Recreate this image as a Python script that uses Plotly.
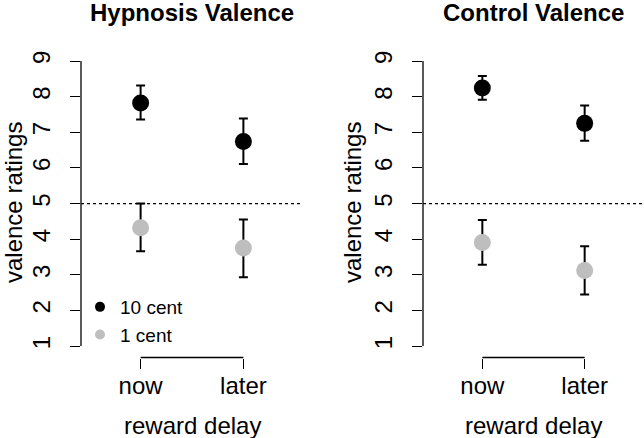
import plotly.graph_objects as go

delays = ["now", "later"]
delay_pos = [1, 2]
titles = ["Hypnosis Valence", "Control Valence"]

# Hypnosis
hyp_10_mean = [7.82, 6.74]
hyp_10_upper = [8.31, 7.39]
hyp_10_lower = [7.36, 6.11]
hyp_1_mean = [4.32, 3.75]
hyp_1_upper = [5.00, 4.55]
hyp_1_lower = [3.66, 2.93]

# Control
ctl_10_mean = [8.24, 7.25]
ctl_10_upper = [8.58, 7.75]
ctl_10_lower = [7.91, 6.76]
ctl_1_mean = [3.91, 3.12]
ctl_1_upper = [4.54, 3.80]
ctl_1_lower = [3.28, 2.45]

y_ticks = [1, 2, 3, 4, 5, 6, 7, 8, 9]
ref_line = 5
series_names = ["10 cent", "1 cent"]
series_colors = ["black", "#BEBEBE"]

W, H = 644, 438
FONT = "Liberation Sans, Arial, sans-serif"

fig = go.Figure()

panels = [
    (hyp_10_mean, hyp_10_upper, hyp_10_lower, hyp_1_mean, hyp_1_upper, hyp_1_lower),
    (ctl_10_mean, ctl_10_upper, ctl_10_lower, ctl_1_mean, ctl_1_upper, ctl_1_lower),
]

xdomains = [[81 / W, 303 / W], [423 / W, 644 / W]]
ydomain = [(H - 357.5) / H, (H - 49.6) / H]
xrange_ = [0.42, 2.58]
yrange_ = [0.68, 9.32]

for i, p in enumerate(panels):
    xa = "x" if i == 0 else "x2"
    ya = "y" if i == 0 else "y2"
    groups = [(p[0], p[1], p[2]), (p[3], p[4], p[5])]
    for k, (m, up, lo) in enumerate(groups):
        fig.add_trace(go.Scatter(
            x=delay_pos, y=m, mode="markers", xaxis=xa, yaxis=ya,
            marker=dict(color=series_colors[k], size=17, line=dict(width=0)),
            error_y=dict(type="data", symmetric=False,
                         array=[u - v for u, v in zip(up, m)],
                         arrayminus=[v - l for v, l in zip(m, lo)],
                         color="black", thickness=2, width=4.5),
            showlegend=False, hoverinfo="skip"))

# legend-only traces
for k in range(2):
    fig.add_trace(go.Scatter(
        x=[None], y=[None], mode="markers", name=series_names[k],
        marker=dict(color=series_colors[k], size=10), showlegend=True))

axis_common = dict(showgrid=False, zeroline=False, showline=False,
                   ticks="outside", ticklen=10, tickwidth=1.3, tickcolor="black",
                   tickfont=dict(family=FONT, size=24, color="black"))

for i in range(2):
    sfx = "" if i == 0 else "2"
    fig.update_layout(**{
        "xaxis" + sfx: dict(domain=xdomains[i], range=xrange_, tickvals=delay_pos,
                            ticktext=delays, anchor="y" + sfx,
                            ticklabelstandoff=-3, **axis_common),
        "yaxis" + sfx: dict(domain=ydomain, range=yrange_, tickvals=y_ticks,
                            anchor="x" + sfx, tickangle=-90,
                            ticklabelstandoff=10, **axis_common),
    })
    xa = "x" + sfx
    ya = "y" + sfx
    # y axis line spanning tick range
    fig.add_shape(type="line", xref=xa + " domain", yref=ya, x0=0, x1=0,
                  y0=y_ticks[0], y1=y_ticks[-1], line=dict(color="black", width=1.3))
    # x axis bracket line
    fig.add_shape(type="line", xref=xa, yref=ya + " domain", x0=delay_pos[0], x1=delay_pos[-1],
                  y0=0, y1=0, line=dict(color="black", width=1.3))
    # dotted reference line
    fig.add_shape(type="line", xref=xa + " domain", yref=ya, x0=0, x1=1,
                  y0=ref_line, y1=ref_line, line=dict(color="black", width=1.2, dash="dot"))
    cx = (xdomains[i][0] + xdomains[i][1]) / 2
    fig.add_annotation(text="<b>" + titles[i] + "</b>", xref="paper", yref="paper",
                       x=cx, y=(H - 12) / H, xanchor="center", yanchor="middle",
                       showarrow=False, font=dict(family=FONT, size=24, color="black"))
    fig.add_annotation(text="reward delay", xref="paper", yref="paper",
                       x=cx, y=(H - 425) / H, xanchor="center", yanchor="middle",
                       showarrow=False, font=dict(family=FONT, size=24, color="black"))
    tx = [13, 352][i]
    fig.add_annotation(text="valence ratings", xref="paper", yref="paper",
                       x=tx / W, y=(H - 203) / H, xanchor="center", yanchor="middle",
                       textangle=-90, showarrow=False,
                       font=dict(family=FONT, size=24, color="black"))

fig.update_layout(
    width=W, height=H, margin=dict(l=0, r=0, t=0, b=0),
    plot_bgcolor="white", paper_bgcolor="white",
    showlegend=True,
    legend=dict(x=80 / W, y=(H - 288) / H, xanchor="left", yanchor="top",
                bgcolor="rgba(0,0,0,0)", borderwidth=0,
                font=dict(family=FONT, size=19, color="black"),
                tracegroupgap=0, itemclick=False),
)

fig.write_html("out.html", config={"displayModeBar": False},
               post_script="document.body.style.margin='0';document.body.style.padding='0';")
